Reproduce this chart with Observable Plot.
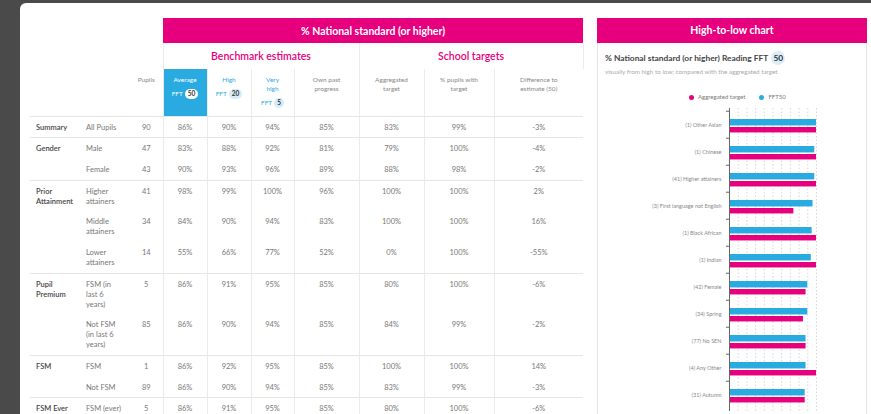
<!DOCTYPE html>
<html><head><meta charset="utf-8">
<script src="https://cdn.jsdelivr.net/npm/d3@7"></script>
<script src="https://cdn.jsdelivr.net/npm/@observablehq/plot@0.6"></script>
<style>
html,body{margin:0;padding:0;}
body{width:871px;height:414px;overflow:hidden;background:#4a4a4a;font-family:Lato,"Open Sans",sans-serif;position:relative;}
#card{position:absolute;left:20px;top:3px;width:870px;height:440px;background:#fff;border-radius:6px 0 0 0;}
#tbl{position:absolute;left:30px;top:18px;border-collapse:collapse;table-layout:fixed;width:553px;font-size:7.5px;color:#777;}
#tbl td{padding:0;}
#tbl tr.hA{height:25px;}
#tbl tr.hB{height:26px;}
#tbl tr.hC{height:47px;}
.pinkhead{background:#e6007e;color:#fff;font-weight:700;font-size:10.5px;text-align:center;}
.sec{color:#e6007e;font-size:10.5px;font-weight:600;text-align:center;border-left:1px solid #ebebeb;border-right:1px solid #ebebeb;}
.hC td{vertical-align:top;text-align:center;line-height:9px;font-size:6.5px;color:#888;border-bottom:1px solid #e6e6e6;}
.hC td .lab{padding-top:6px;white-space:pre-line;}
.hC td.vc{border-left:1px solid #ebebeb;}
.hC td.blue{color:#29abe2;}
.hC td.avg{background:#29abe2;color:#fff;}
.fft{margin-top:4px;line-height:11px;}
.pill{display:inline-block;background:#d5ecf9;color:#333;font-weight:700;border-radius:6px;padding:0 3px;height:10px;line-height:10px;margin-left:2px;}
.avg .pill{background:#fff;}
#tbl tbody.grp{border-bottom:1px solid #e6e6e6;}
#tbl tbody td{vertical-align:top;padding:6px 0 4.7px 0;line-height:10px;}
td.g{padding-left:6px !important;color:#444;font-weight:600;white-space:pre;}
td.s{padding-left:8px !important;white-space:pre;color:#777;}
td.n{text-align:center;}
td.v{text-align:center;border-left:1px solid #ebebeb;}
#panel{position:absolute;left:597px;top:18px;width:268px;height:420px;border:1px solid #e4e4e4;background:#fff;}
#phead{position:absolute;left:597px;top:18px;width:270px;height:25px;background:#e6007e;color:#fff;font-weight:700;font-size:10.5px;text-align:center;line-height:25px;}
#ptitle{position:absolute;left:605px;top:51px;font-size:8.4px;font-weight:700;color:#444;line-height:14px;white-space:nowrap;}
#ptitle .badge{display:inline-block;width:14px;height:14px;border-radius:7px;background:#d9eefa;text-align:center;margin-left:3px;color:#333;}
#psub{position:absolute;left:605px;top:68px;font-size:6.3px;color:#aaa;white-space:nowrap;}
#legend{position:absolute;left:689px;top:93px;font-size:6px;color:#777;line-height:8px;white-space:nowrap;}
#legend .dot{display:inline-block;width:5px;height:5px;border-radius:3px;margin-right:4px;vertical-align:-0.5px;}
#chart{position:absolute;left:598px;top:100px;}
</style></head>
<body>
<div id="card"></div>
<table id="tbl">
<colgroup><col style="width:48px"><col style="width:52px"><col style="width:33px"><col style="width:44px"><col style="width:44px"><col style="width:43px"><col style="width:65px"><col style="width:65px"><col style="width:70px"><col style="width:89px"></colgroup>
<thead id="thead"></thead>
</table>
<div id="panel"></div>
<div id="phead"></div>
<div id="ptitle"></div>
<div id="psub"></div>
<div id="legend"></div>
<div id="chart"></div>
<script>
// ---- Table data ----
const tableTitle = "% National standard (or higher)";
const sectionTitles = ["Benchmark estimates", "School targets"];
const pupilsHeader = "Pupils";
const estimateHeaders = ["Average", "High", "Very\nhigh"];
const estimateBadges = ["50", "20", "5"];
const targetHeaders = ["Own past\nprogress", "Aggregated\ntarget", "% pupils with\ntarget", "Difference to\nestimate (50)"];

const rowGroups = ["Summary", "Gender", "Gender", "Prior\nAttainment", "Prior\nAttainment", "Prior\nAttainment", "Pupil\nPremium", "Pupil\nPremium", "FSM", "FSM", "FSM Ever"];
const rowLabels = ["All Pupils", "Male", "Female", "Higher\nattainers", "Middle\nattainers", "Lower\nattainers", "FSM (in\nlast 6\nyears)", "Not FSM\n(in last 6\nyears)", "FSM", "Not FSM", "FSM (ever)"];
const pupils = [90, 47, 43, 41, 34, 14, 5, 85, 1, 89, 5];
const avgFFT50 = [86, 83, 90, 98, 84, 55, 86, 86, 86, 86, 86];
const highFFT20 = [90, 88, 93, 99, 90, 66, 91, 90, 92, 90, 91];
const veryHighFFT5 = [94, 92, 96, 100, 94, 77, 95, 94, 95, 94, 95];
const ownPastProgress = [85, 81, 89, 96, 83, 52, 85, 85, 85, 85, 85];
const aggregatedTarget = [83, 79, 88, 100, 100, 0, 80, 84, 100, 83, 80];
const pctWithTarget = [99, 100, 98, 100, 100, 100, 100, 99, 100, 99, 100];
const diffToEstimate = [-3, -4, -2, 2, 16, -55, -6, -2, 14, -3, -6];

// ---- Chart data ----
const chartTitle = "High-to-low chart";
const chartHeading = "% National standard (or higher) Reading FFT";
const chartBadge = "50";
const chartSubtitle = "visually from high to low; compared with the aggregated target";
const legendLabels = ["Aggregated target", "FFT50"];
const chartCategories = ["(1) Other Asian", "(1) Chinese", "(41) Higher attainers", "(3) First language not English", "(1) Black African", "(1) Indian", "(42) Female", "(34) Spring", "(77) No SEN", "(4) Any Other", "(31) Autumn"];
const chartFFT50 = [100, 98, 98, 96, 95, 94, 90, 90, 88, 88, 87];
const chartAggTarget = [100, 100, 100, 74, 100, 100, 88, 85, 88, 100, 87];
const xGridTicks = [10, 20, 30, 40, 50, 60, 70, 80, 90, 100];

const PINK = "#e6007e", BLUE = "#29abe2";

// ---- Build table ----
const esc = s => String(s).replace(/&/g,"&amp;").replace(/</g,"&lt;");
let th = `<tr class="hA"><td colspan="3"></td><td colspan="7" class="pinkhead">${esc(tableTitle)}</td></tr>`;
th += `<tr class="hB"><td colspan="3"></td><td colspan="4" class="sec">${esc(sectionTitles[0])}</td><td colspan="3" class="sec">${esc(sectionTitles[1])}</td></tr>`;
th += `<tr class="hC"><td></td><td></td><td><div class="lab">${esc(pupilsHeader)}</div></td>`;
estimateHeaders.forEach((h, i) => {
  th += `<td class="vc ${i === 0 ? "avg" : "blue"}"><div class="lab">${esc(h)}</div><div class="fft">FFT<span class="pill">${esc(estimateBadges[i])}</span></div></td>`;
});
targetHeaders.forEach(h => { th += `<td class="vc"><div class="lab">${esc(h)}</div></td>`; });
th += `</tr>`;
document.getElementById("thead").innerHTML = th;

const tbl = document.getElementById("tbl");
const pct = v => v + "%";
let i = 0;
while (i < rowGroups.length) {
  let j = i;
  while (j < rowGroups.length && rowGroups[j] === rowGroups[i]) j++;
  const tb = document.createElement("tbody");
  tb.className = "grp";
  let html = "";
  for (let k = i; k < j; k++) {
    html += "<tr>";
    if (k === i) html += `<td class="g" rowspan="${j - i}">${esc(rowGroups[i])}</td>`;
    html += `<td class="s">${esc(rowLabels[k])}</td><td class="n">${pupils[k]}</td>`;
    [avgFFT50[k], highFFT20[k], veryHighFFT5[k], ownPastProgress[k], aggregatedTarget[k], pctWithTarget[k], diffToEstimate[k]]
      .forEach(v => { html += `<td class="v">${pct(v)}</td>`; });
    html += "</tr>";
  }
  tb.innerHTML = html;
  tbl.appendChild(tb);
  i = j;
}

// ---- Right panel ----
document.getElementById("phead").textContent = chartTitle;
document.getElementById("ptitle").innerHTML = `${esc(chartHeading)}<span class="badge">${esc(chartBadge)}</span>`;
document.getElementById("psub").textContent = chartSubtitle;
document.getElementById("legend").innerHTML =
  `<span class="dot" style="background:${PINK}"></span>${esc(legendLabels[0])}` +
  `<span class="dot" style="background:${BLUE};margin-left:14px"></span>${esc(legendLabels[1])}`;

const chartData = chartCategories.map((c, k) => ({cat: c, fft50: chartFFT50[k], agg: chartAggTarget[k]}));
const H = 321, MT = 8, MB = 10;
const bw = (H - MT - MB) / chartCategories.length;
const chart = Plot.plot({
  width: 268, height: H,
  marginLeft: 131, marginRight: 50, marginTop: MT, marginBottom: MB,
  x: {domain: [0, 100], axis: null},
  y: {domain: chartCategories, padding: 0, axis: null},
  style: {fontFamily: "Lato, sans-serif", background: "transparent", overflow: "visible"},
  marks: [
    Plot.ruleX(xGridTicks, {stroke: "#d6d6d6", strokeDasharray: "1.5,2"}),
    Plot.barX(chartData, {y: "cat", x: "fft50", fill: BLUE, insetTop: 8, insetBottom: bw - 15}),
    Plot.barX(chartData, {y: "cat", x: "agg", fill: PINK, insetTop: 16, insetBottom: bw - 22}),
    Plot.ruleX([0], {stroke: "#666"}),
    Plot.ruleY(chartData, {y: "cat", x1: -3.5, x2: 0, dy: -bw / 2, stroke: "#666"}),
    Plot.text(chartData, {y: "cat", x: 0, dx: -8, text: "cat", textAnchor: "end", fontSize: 5.5, fill: "#888"})
  ]
});
document.getElementById("chart").appendChild(chart);
</script>
</body></html>
